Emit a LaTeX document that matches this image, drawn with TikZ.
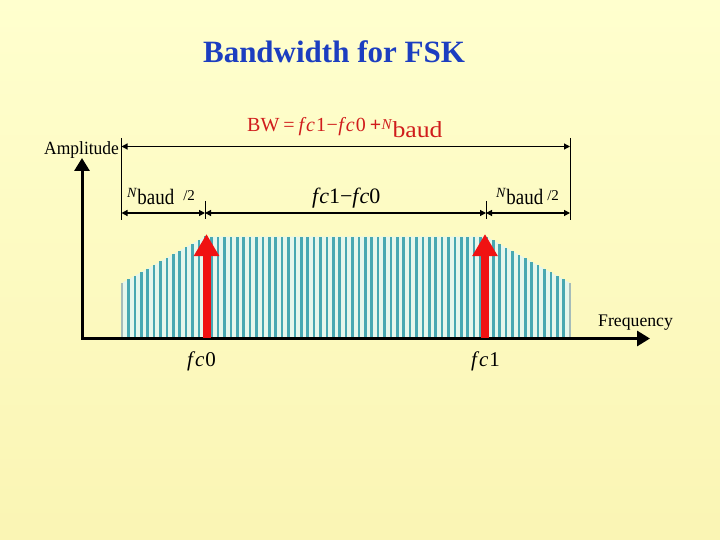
\documentclass[tikz,border=0pt]{standalone}
\usepackage{fontspec}
\setmainfont{Liberation Serif}
\usepackage{graphicx}
\usetikzlibrary{arrows.meta}
\definecolor{bgtop}{RGB}{255,255,206}
\definecolor{bgbot}{RGB}{250,245,180}
\definecolor{titleblue}{RGB}{28,62,192}
\definecolor{bwred}{RGB}{208,28,28}
\definecolor{barteal}{RGB}{72,168,178}
\definecolor{barpale}{RGB}{230,247,236}
\definecolor{bargray}{RGB}{165,188,186}
\definecolor{arrred}{RGB}{240,18,18}
\newcommand{\fsz}[1]{\fontsize{#1}{#1}\selectfont}
\newcommand{\nbaudlbl}[1]{\raisebox{8pt}{\fsz{14}\textit{N}}\kern0.3pt\scalebox{0.86}[1]{\fsz{22}baud}\kern#1\raisebox{4pt}{\fsz{15}/2}}
\begin{document}
\begin{tikzpicture}[x=1pt,y=-1pt,
  lbl/.style={inner sep=0pt, anchor=base west},
  axis/.style={line width=3pt, line join=miter, {Triangle[length=13pt,width=15pt]}-{Triangle[length=13pt,width=15pt]}},
  dim/.style={line width=1.2pt, {Triangle[length=6pt,width=6pt]}-{Triangle[length=6pt,width=6pt]}},
  guide/.style={line width=1pt},
  carrier/.style={line width=8pt, arrred, -{Triangle[length=22pt,width=24pt]}},
  bar/.style={line width=2.6pt, barteal}]
\shade[top color=bgtop,bottom color=bgbot] (0,0) rectangle (720,540);
\useasboundingbox (0,0) rectangle (720,540);

% title
\node[inner sep=0pt, anchor=base] (title) at (334,62.5)
  {\fsz{31}\bfseries\color{titleblue}Bandwidth for FSK};

% spectrum
\fill[barpale] (122,338) -- (122,283) -- (205,236.5) -- (486,236.5) -- (570,283) -- (570,338) -- cycle;
\foreach \i in {0,...,70}{
  \pgfmathsetmacro\bx{122+6.4*\i}
  \pgfmathsetmacro\by{\bx<205.5 ? 283-(\bx-122)*0.5603 : (\bx>485.5 ? 283-(570-\bx)*0.5536 : 236.5)}
  \draw[bar] (\bx,338) -- (\bx,\by);
}
\draw[bar, bargray] (122,338) -- (122,283);
\draw[bar, bargray] (570,338) -- (570,283);

% guides and dimension lines
\coordinate (gL) at (121.5,138);
\coordinate (gLb) at (121.5,220);
\coordinate (gR) at (570,138);
\coordinate (gRb) at (570,220);
\coordinate (t0) at (205,201);
\coordinate (t0b) at (205,219);
\coordinate (t1) at (486,201);
\coordinate (t1b) at (486,219);
\draw[guide] (gL) -- (gLb);
\draw[guide] (gR) -- (gRb);
\draw[guide] (t0) -- (t0b);
\draw[guide] (t1) -- (t1b);

\coordinate (bwL) at (121.5,146.5);
\coordinate (bwR) at (570,146.5);
\draw[dim] (bwL) -- (bwR);
\coordinate (dA) at (121.5,213);
\coordinate (dB) at (205,213);
\coordinate (dC) at (486,213);
\coordinate (dD) at (570,213);
\draw[dim] (dA) -- (dB);
\draw[dim] (dB) -- (dC);
\draw[dim] (dC) -- (dD);

% axes
\coordinate (O) at (82,338.5);
\coordinate (ytip) at (82,158);
\coordinate (xtip) at (650,338.5);
\draw[axis] (ytip) -- (O) -- (xtip);

% carriers
\coordinate (c0) at (206.5,338);
\coordinate (c0t) at (206.5,234);
\coordinate (c1) at (485,338);
\coordinate (c1t) at (485,234);
\draw[carrier] (c0) -- (c0t);
\draw[carrier] (c1) -- (c1t);

% labels
\node[lbl] (amp) at (44,155) {\scalebox{0.94}[1]{\fsz{18.6}Amplitude}};
\node[lbl] (freq) at (598,326) {\fsz{17.7}Frequency};
\node[lbl] (bw) at (247,132) {\color{bwred}\fsz{20}BW\kern4pt=\kern4pt\textit{f\kern2pt c}\kern1pt1\kern0.5pt−\kern0.5pt\textit{f\kern2pt c}\kern1pt0\kern4pt\textbf{+}\kern0.3pt\raisebox{2pt}{\fsz{15}\textit{N}}\kern0.3pt\raisebox{-6pt}{\scalebox{1.12}[1]{\fsz{23}baud}}};
\node[lbl] (nb0) at (127,205) {\nbaudlbl{9pt}};
\node[lbl] (diff) at (312,204) {\fsz{22}\textit{f\kern1pt c}1−\textit{f\kern1pt c}0};
\node[lbl] (nb1) at (496,205) {\nbaudlbl{4pt}};
\node[lbl] (f0) at (187,366) {\fsz{21}\textit{f\kern2pt c}\kern1pt0};
\node[lbl] (f1) at (471,366) {\fsz{21}\textit{f\kern2pt c}\kern1pt1};
\end{tikzpicture}
\end{document}
